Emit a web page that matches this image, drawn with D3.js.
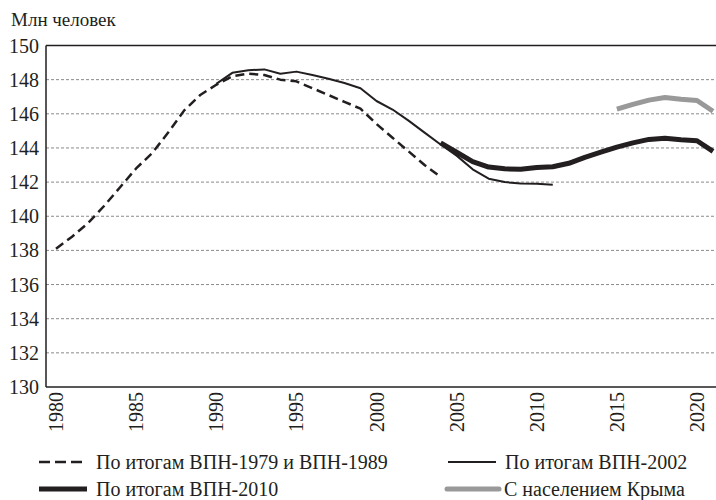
<!DOCTYPE html>
<html>
<head>
    <meta charset="UTF-8">
    <title>Population chart</title>
    <style>
        html, body {
            margin: 0;
            padding: 0;
            background-color: #fff;
            font-family: "Liberation Serif", serif !important;
        }
        svg {
            display: block;
        }
        #chart svg text, svg text, text {
            font-family: "Liberation Serif", serif !important;
        }
    </style>
</head>
<body>
    <div id="chart"></div>
    <script src="https://d3js.org/d3.v7.min.js"></script>
    <script>
        // DATA (млн человек)
        const yearsA = d3.range(1980, 2005);
        const valuesA = [138.1, 138.8, 139.6, 140.6, 141.7, 142.8, 143.7, 144.9, 146.2, 147.1,
                         147.7, 148.2, 148.35, 148.27, 148.0, 147.9, 147.5, 147.1, 146.7, 146.3,
                         145.4, 144.6, 143.8, 143.0, 142.3];

        const yearsB = d3.range(1990, 2012);
        const valuesB = [147.75, 148.4, 148.55, 148.6, 148.35, 148.47, 148.27, 148.05, 147.8, 147.5,
                         146.75, 146.25, 145.6, 144.9, 144.2, 143.55, 142.75, 142.2, 142.0, 141.92,
                         141.9, 141.85];

        const yearsC = d3.range(2004, 2022);
        const valuesC = [144.3, 143.75, 143.2, 142.88, 142.78, 142.75, 142.85, 142.9, 143.1, 143.45,
                         143.75, 144.05, 144.3, 144.5, 144.57, 144.48, 144.42, 143.8];

        const yearsD = d3.range(2015, 2022);
        const valuesD = [146.27, 146.55, 146.8, 146.95, 146.85, 146.78, 146.15];

        const yTicks = [130, 132, 134, 136, 138, 140, 142, 144, 146, 148, 150];
        const xTicks = [1980, 1985, 1990, 1995, 2000, 2005, 2010, 2015, 2020];

        const legendLabels = [
            "По итогам ВПН-1979 и ВПН-1989",
            "По итогам ВПН-2002",
            "По итогам ВПН-2010",
            "С населением Крыма"
        ];

        const W = 716, H = 500;
        const plot = {left: 46, right: 716, top: 45.5, bottom: 387};
        const FONT = "Liberation Serif";
        const INK = "#231f20";

        const svg = d3.select("#chart")
            .append("svg")
            .attr("width", W)
            .attr("height", H)
            .attr("font-family", FONT);

        // SCALES
        const x = d3.scaleLinear().domain([1980, 2020]).range([56, 697]);
        const y = d3.scaleLinear().domain([130, 150]).range([plot.bottom, plot.top]);

        // UNIT LABEL
        svg.append("text")
            .attr("x", 11)
            .attr("y", 26)
            .attr("font-size", 19)
            .attr("fill", INK)
            .style("font-family", FONT, "important")
            .text("Млн человек");

        // GRID LINES
        svg.append("g")
            .selectAll("line")
            .data(yTicks.filter(d => d > 130 && d < 150))
            .enter()
            .append("line")
            .attr("x1", plot.left)
            .attr("x2", plot.right)
            .attr("y1", d => y(d))
            .attr("y2", d => y(d))
            .style("stroke", "#8a8a8a")
            .style("stroke-width", 1)
            .style("stroke-dasharray", "3,2");

        // Y AXIS LABELS
        svg.append("g")
            .selectAll("text")
            .data(yTicks)
            .enter()
            .append("text")
            .attr("x", 39)
            .attr("y", d => y(d))
            .attr("dy", "0.35em")
            .attr("text-anchor", "end")
            .attr("font-size", 20)
            .attr("fill", INK)
            .style("font-family", FONT, "important")
            .text(d => d);

        // X AXIS LABELS
        svg.append("g")
            .selectAll("text")
            .data(xTicks)
            .enter()
            .append("text")
            .attr("transform", d => `translate(${x(d)}, ${plot.bottom + 5}) rotate(-90)`)
            .attr("dy", "0.35em")
            .attr("text-anchor", "end")
            .attr("font-size", 20)
            .attr("fill", INK)
            .style("font-family", FONT, "important")
            .text(d => d);

        // FRAME
        svg.append("line")
            .attr("x1", plot.left).attr("x2", plot.right)
            .attr("y1", plot.top).attr("y2", plot.top)
            .style("stroke", INK).style("stroke-width", 1.5);
        svg.append("line")
            .attr("x1", plot.left).attr("x2", plot.right)
            .attr("y1", plot.bottom).attr("y2", plot.bottom)
            .style("stroke", INK).style("stroke-width", 1.5);
        svg.append("line")
            .attr("x1", plot.left).attr("x2", plot.left)
            .attr("y1", plot.top).attr("y2", plot.bottom)
            .style("stroke", INK).style("stroke-width", 1.5);

        // SERIES
        const line = d3.line().x(d => x(d[0])).y(d => y(d[1]));
        const series = [
            {years: yearsA, values: valuesA, color: INK, width: 2.5, dash: "9,5"},
            {years: yearsB, values: valuesB, color: INK, width: 2, dash: null},
            {years: yearsC, values: valuesC, color: INK, width: 5, dash: null},
            {years: yearsD, values: valuesD, color: "#999999", width: 5, dash: null}
        ];

        svg.append("g")
            .selectAll("path")
            .data(series)
            .enter()
            .append("path")
            .attr("d", s => line(s.years.map((yr, i) => [yr, s.values[i]])))
            .style("fill", "none")
            .style("stroke", s => s.color)
            .style("stroke-width", s => s.width)
            .style("stroke-dasharray", s => s.dash)
            .style("stroke-linejoin", "round");

        // LEGEND
        const legendPos = [
            {x: 39, y: 462},
            {x: 448, y: 462},
            {x: 39, y: 489},
            {x: 447, y: 489}
        ];
        const legend = svg.append("g")
            .selectAll("g")
            .data(series)
            .enter()
            .append("g")
            .attr("transform", (d, i) => `translate(${legendPos[i].x}, ${legendPos[i].y})`);

        legend.append("line")
            .attr("x1", 0)
            .attr("x2", (d, i) => i === 3 ? 52 : 48)
            .style("stroke", s => s.color)
            .style("stroke-width", s => s.width)
            .style("stroke-dasharray", s => s.dash ? "11,5" : null)
            .style("stroke-linecap", (d, i) => i === 3 ? "round" : "butt");

        legend.append("text")
            .attr("x", 57)
            .attr("dy", "0.35em")
            .attr("font-size", 20)
            .attr("fill", INK)
            .style("font-family", FONT, "important")
            .text((d, i) => legendLabels[i]);
    </script>
</body>
</html>
